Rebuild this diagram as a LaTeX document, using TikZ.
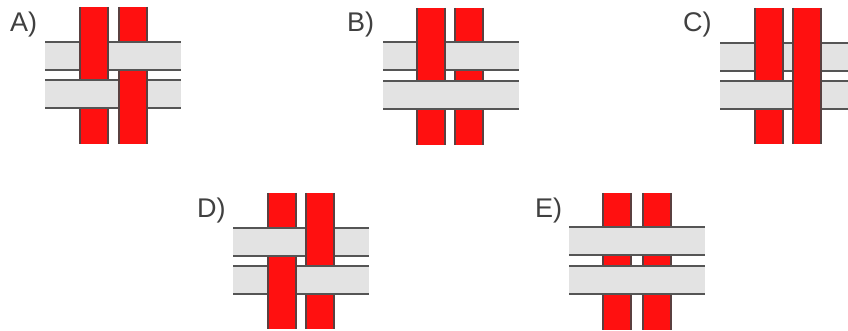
\documentclass[tikz,border=0pt]{standalone}
\usepackage{fontspec}
\setmainfont{Liberation Sans}
\definecolor{wred}{HTML}{FF1010}
\definecolor{wredge}{HTML}{5A4040}
\definecolor{wgray}{HTML}{E3E3E3}
\definecolor{wgedge}{HTML}{555555}
\definecolor{lbl}{HTML}{404040}
\tikzset{
  redfill/.style={fill=wred},
  rededge/.style={draw=wredge, line width=1.3pt},
  grayfill/.style={fill=wgray},
  grayedge/.style={draw=wgedge, line width=1.8pt},
  lab/.style={anchor=base west, inner sep=0pt, text=lbl, font=\fontsize{27}{30}\selectfont}
}
% vertical red strip: x, ytop, ybottom
\newcommand\wvstrip[3]{%
  \fill[redfill] (#1,#2) rectangle (#1+28,#3);
  \draw[rededge] (#1,#2) -- (#1,#3) (#1+28,#2) -- (#1+28,#3);}
% horizontal gray band: xleft, ytop
\newcommand\whband[2]{%
  \fill[grayfill] (#1,#2) rectangle (#1+136,#2+28);
  \draw[grayedge] (#1,#2) -- (#1+136,#2) (#1,#2+28) -- (#1+136,#2+28);}
% red strip passing over a band: x, band ytop
\newcommand\wover[2]{\wvstrip{#1}{#2-1.5}{#2+29.5}}
\begin{document}
\begin{tikzpicture}[x=1pt,y=-1pt]
\useasboundingbox (0,0) rectangle (848,331);
\fill[white] (0,0) rectangle (848,331);
% ---------- A ----------
\wvstrip{80}{7}{144}
\wvstrip{119}{7}{144}
\whband{45}{42}
\whband{45}{80}
\wover{80}{42}
\wover{119}{80}
\node[lab] (la) at (10,32) {A)};
% ---------- B ----------
\wvstrip{417}{8}{145}
\wvstrip{455}{8}{145}
\whband{383}{42}
\whband{383}{81}
\wover{417}{42}
\node[lab] (lb) at (347,32) {B)};
% ---------- C ----------
\wvstrip{755}{8}{144}
\wvstrip{793}{8}{144}
\whband{720}{43}
\whband{720}{81}
\wover{755}{43}
\wover{793}{43}
\wover{793}{81}
\node[lab] (lc) at (683,32) {C)};
% ---------- D ----------
\wvstrip{268}{193}{329}
\wvstrip{306}{193}{329}
\whband{233}{228}
\whband{233}{266}
\wover{268}{266}
\wover{306}{228}
\node[lab] (ld) at (197,217) {D)};
% ---------- E ----------
\wvstrip{603}{193}{330}
\wvstrip{643}{193}{330}
\whband{569}{227}
\whband{569}{266}
\node[lab] (le) at (535,217) {E)};
\end{tikzpicture}
\end{document}
